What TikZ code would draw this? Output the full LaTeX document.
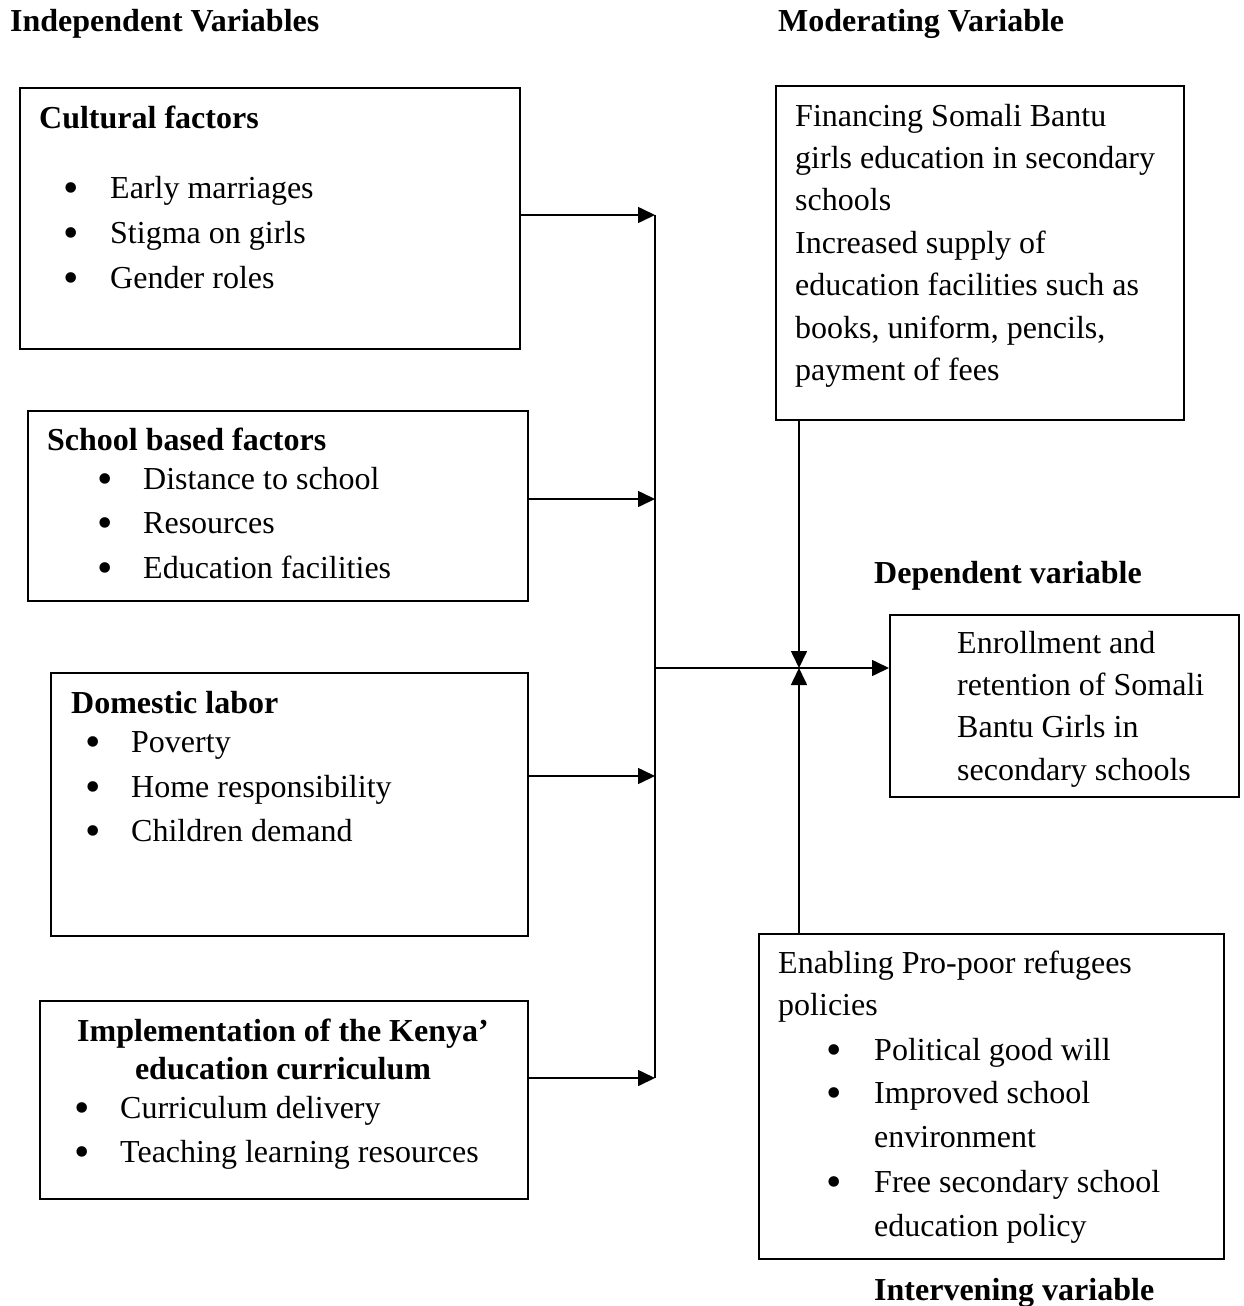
\documentclass[tikz,border=0pt]{standalone}
\usepackage{fontspec}
\setmainfont{Liberation Serif}
\usetikzlibrary{arrows.meta}
\begin{document}
\begin{tikzpicture}[x=1pt,y=-1pt,
  box/.style={draw, line width=1.6pt, anchor=north west, inner sep=0pt},
  txt/.style={anchor=base west, inner sep=0pt, font=\fontsize{32}{38}\selectfont},
  hd/.style={anchor=base west, inner sep=0pt, font=\fontsize{32}{38}\selectfont\bfseries},
  hdc/.style={anchor=base, inner sep=0pt, font=\fontsize{32}{38}\selectfont\bfseries},
  bul/.style={anchor=base, inner sep=0pt, yshift=-4pt, font=\fontsize{44}{44}\selectfont},
  arr/.style={line width=1.6pt, -{Triangle[length=17pt,width=16pt]}},
  ln/.style={line width=1.6pt}]
\useasboundingbox (0,0) rectangle (1243,1306);

% headings
\node[hd] (hIndep) at (10,32) {Independent Variables};
\node[hd] (hMod) at (778,32) {Moderating Variable};
\node[hd] (hDep) at (874,583) {Dependent variable};
\node[hd] (hInt) at (874,1300) {Intervening variable};

% boxes
\node[box, minimum width=500pt, minimum height=261pt] (cult) at (19,87) {};
\node[box, minimum width=500pt, minimum height=190pt] (school) at (27,410) {};
\node[box, minimum width=477pt, minimum height=263pt] (dom) at (50,672) {};
\node[box, minimum width=488pt, minimum height=198pt] (impl) at (39,1000) {};
\node[box, minimum width=408pt, minimum height=334pt] (fin) at (775,85) {};
\node[box, minimum width=349pt, minimum height=182pt] (dep) at (889,614) {};
\node[box, minimum width=465pt, minimum height=325pt] (int) at (758,933) {};

% cultural factors
\node[hd] (cT) at (39,128) {Cultural factors};
\node[bul] (cb1) at (71,198) {\textbullet};
\node[txt] (c1) at (110,198) {Early marriages};
\node[bul] (cb2) at (71,243) {\textbullet};
\node[txt] (c2) at (110,243) {Stigma on girls};
\node[bul] (cb3) at (71,288) {\textbullet};
\node[txt] (c3) at (110,288) {Gender roles};

% school based factors
\node[hd] (sT) at (47,450) {School based factors};
\node[bul] (sb1) at (105,489) {\textbullet};
\node[txt] (s1) at (143,489) {Distance to school};
\node[bul] (sb2) at (105,533) {\textbullet};
\node[txt] (s2) at (143,533) {Resources};
\node[bul] (sb3) at (105,578) {\textbullet};
\node[txt] (s3) at (143,578) {Education facilities};

% domestic labor
\node[hd] (dT) at (71,713) {Domestic labor};
\node[bul] (db1) at (93,752) {\textbullet};
\node[txt] (d1) at (131,752) {Poverty};
\node[bul] (db2) at (93,797) {\textbullet};
\node[txt] (d2) at (131,797) {Home responsibility};
\node[bul] (db3) at (93,841) {\textbullet};
\node[txt] (d3) at (131,841) {Children demand};

% implementation
\node[hdc] (iT1) at (283,1041) {Implementation of the Kenya’};
\node[hdc] (iT2) at (283,1079) {education curriculum};
\node[bul] (ib1) at (82,1118) {\textbullet};
\node[txt] (i1) at (120,1118) {Curriculum delivery};
\node[bul] (ib2) at (82,1162) {\textbullet};
\node[txt] (i2) at (120,1162) {Teaching learning resources};

% moderating
\node[txt] (f1) at (795,126) {Financing Somali Bantu};
\node[txt] (f2) at (795,168) {girls education in secondary};
\node[txt] (f3) at (795,210) {schools};
\node[txt] (f4) at (795,253) {Increased supply of};
\node[txt] (f5) at (795,295) {education facilities such as};
\node[txt] (f6) at (795,338) {books, uniform, pencils,};
\node[txt] (f7) at (795,380) {payment of fees};

% dependent
\node[txt] (e1) at (957,653) {Enrollment and};
\node[txt] (e2) at (957,695) {retention of Somali};
\node[txt] (e3) at (957,737) {Bantu Girls in};
\node[txt] (e4) at (957,780) {secondary schools};

% intervening
\node[txt] (n1) at (778,973) {Enabling Pro-poor refugees};
\node[txt] (n2) at (778,1015) {policies};
\node[bul] (nb1) at (834,1060) {\textbullet};
\node[txt] (n3) at (874,1060) {Political good will};
\node[bul] (nb2) at (834,1103) {\textbullet};
\node[txt] (n4) at (874,1103) {Improved school};
\node[txt] (n5) at (874,1147) {environment};
\node[bul] (nb3) at (834,1192) {\textbullet};
\node[txt] (n6) at (874,1192) {Free secondary school};
\node[txt] (n7) at (874,1236) {education policy};

% connectors
\coordinate (j1) at (655,215);
\coordinate (j2) at (655,499);
\coordinate (j3) at (655,776);
\coordinate (j4) at (655,1078);
\coordinate (jm) at (655,668);
\coordinate (mx) at (799,668);

\draw[ln] (j1) -- (j4);
\draw[arr] (cult.east |- j1) -- (j1);
\draw[arr] (school.east |- j2) -- (j2);
\draw[arr] (dom.east |- j3) -- (j3);
\draw[arr] (impl.east |- j4) -- (j4);
\draw[arr] (jm) -- (dep.west |- jm);
\draw[arr] (fin.south -| mx) -- (mx);
\draw[arr] (int.north -| mx) -- (mx);
\end{tikzpicture}
\end{document}
